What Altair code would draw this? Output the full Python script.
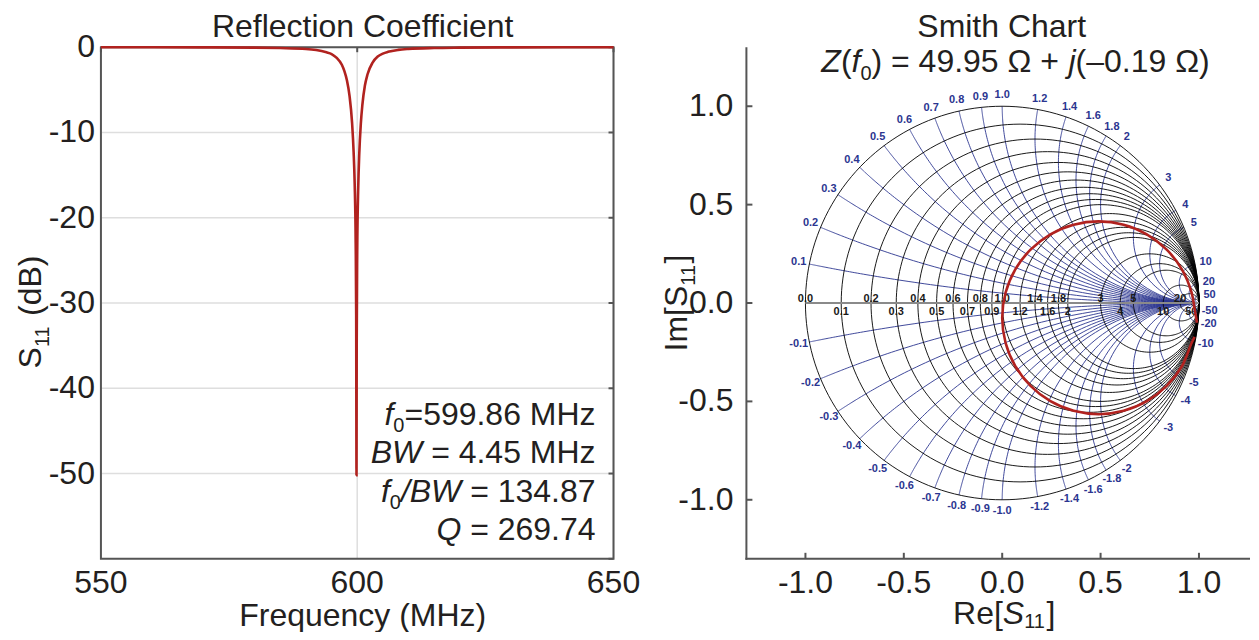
import numpy as np
import pandas as pd
import altair as alt

FONT = "Liberation Sans"
TXT = "#231f20"
RED = "#b1221f"
BLUE = "#2b3590"
FRAME = "#555555"
GRIDC = "#dedede"
FS = 32

# ---------------- Reflection coefficient (left panel) ----------------
freq_mhz = [550, 560, 570, 580, 585, 590, 592, 594, 595, 596,
            597, 597.5, 598, 598.5, 599, 599.3, 599.5, 599.7, 599.8, 599.86,
            599.9, 600, 600.2, 600.4, 600.7, 601, 601.5, 602, 603, 604,
            605, 606, 608, 610, 615, 620, 630, 640, 650]
s11_db = [-0.01, -0.01, -0.02, -0.05, -0.1, -0.2, -0.33, -0.6, -0.8, -1.25,
          -2.05, -2.8, -3.9, -5.7, -8.9, -12.3, -15.9, -22.9, -31.4, -50.2,
          -34.9, -24.0, -16.4, -12.5, -9.0, -6.8, -4.5, -3.2, -1.8, -1.1,
          -0.75, -0.54, -0.31, -0.2, -0.09, -0.05, -0.02, -0.01, -0.01]
f_ticks = [550, 600, 650]
f_tick_labels = ["550", "600", "650"]
db_ticks = [0, -10, -20, -30, -40, -50]
db_tick_labels = ["0", "-10", "-20", "-30", "-40", "-50"]

# ---------------- Smith chart (right panel) ----------------
r_values = [0, 0.1, 0.2, 0.3, 0.4, 0.5, 0.6, 0.7, 0.8, 0.9, 1.0,
            1.2, 1.4, 1.6, 1.8, 2, 3, 4, 5, 10, 20, 50]
r_labels = ["0.0", "0.1", "0.2", "0.3", "0.4", "0.5", "0.6", "0.7", "0.8", "0.9", "1.0",
            "1.2", "1.4", "1.6", "1.8", "2", "3", "4", "5", "10", "20", "50"]
x_values = [0.1, 0.2, 0.3, 0.4, 0.5, 0.6, 0.7, 0.8, 0.9, 1.0,
            1.2, 1.4, 1.6, 1.8, 2, 3, 4, 5, 10, 20, 50]
x_labels = ["0.1", "0.2", "0.3", "0.4", "0.5", "0.6", "0.7", "0.8", "0.9", "1.0",
            "1.2", "1.4", "1.6", "1.8", "2", "3", "4", "5", "10", "20", "50"]
trace_re = [0.990, 0.978, 0.963, 0.914, 0.836, 0.735, 0.617, 0.490, 0.363, 0.245,
            0.144, 0.066, 0.017, 0.000, 0.017, 0.066, 0.144, 0.245, 0.363, 0.490,
            0.617, 0.735, 0.836, 0.914, 0.963, 0.978]
trace_im = [-0.100, -0.032, 0.052, 0.170, 0.271, 0.349, 0.398, 0.415, 0.398, 0.349,
            0.271, 0.170, 0.052, -0.075, -0.202, -0.320, -0.421, -0.499, -0.548, -0.565,
            -0.548, -0.499, -0.421, -0.320, -0.202, -0.172]
gamma_ticks = [-1.0, -0.5, 0.0, 0.5, 1.0]
gamma_tick_labels = ["-1.0", "-0.5", "0.0", "0.5", "1.0"]

LW, LH = 513, 512
RW, RH = 504, 512            # right panel cut at the page edge (scale kept at 512 px / 2.6)
R_XMAX = -1.3 + RW * 2.6 / 512
ONE = alt.Data(values=[{"a": 1}])

# Arial / Liberation Sans advance widths (1/1000 em) for layout of mixed-style text
WID = {**{d: 556 for d in "0123456789"}, ".": 278, " ": 278, "=": 584, "+": 584,
       "(": 333, ")": 333, "[": 278, "]": 278, "/": 278, "\u2013": 556, "-": 333,
       "\u03a9": 768, "B": 667, "C": 722, "F": 611, "H": 722, "I": 278, "M": 833, "Q": 778,
       "R": 722, "S": 667, "W": 944, "Z": 611, "a": 556, "c": 500, "d": 556, "e": 556,
       "f": 278, "h": 556, "i": 222, "j": 222, "l": 222, "m": 833, "n": 556, "o": 556,
       "q": 556, "r": 333, "t": 278, "u": 556, "y": 500, "z": 500}


def tw(s, size):
    return sum(WID.get(ch, 556) for ch in s) * size / 1000.0


def rich(segs, x0, y0, size=FS, sub_size=20, sub_drop=8, align="left", angle=0, color=TXT):
    widths = [tw(t, sub_size if sub else size) for t, it, sub in segs]
    total = sum(widths)
    pos = -total if align == "right" else (-total / 2 if align == "center" else 0)
    out = []
    for (t, it, sub), w in zip(segs, widths):
        sz = sub_size if sub else size
        lead = len(t) - len(t.lstrip(" "))
        shown = t.strip(" ")
        p = pos + tw(" " * lead, sz)
        if angle == 0:
            x, y = x0 + p, y0 + (sub_drop if sub else 0)
        else:
            x, y = x0 + (sub_drop if sub else 0), y0 - p
        kw = dict(align="left", baseline="alphabetic", font=FONT, fontSize=sz,
                  fontStyle="italic" if it else "normal", color=color)
        if angle:
            kw["angle"] = angle
        out.append(alt.Chart(ONE).mark_text(**kw).encode(
            x=alt.value(x), y=alt.value(y), text=alt.value(shown)))
        pos += w
    return out


def ticks(vals, orient, scale, W, H, L=6, color=FRAME, width=2):
    df = pd.DataFrame({"v": vals})
    c = alt.Chart(df).mark_rule(color=color, strokeWidth=width)
    if orient in ("left", "right"):
        x0 = 0 if orient == "left" else W - L
        return c.encode(y=alt.Y("v:Q", scale=scale, axis=None),
                        x=alt.value(x0), x2=alt.value(x0 + L))
    y0 = H - L if orient == "bottom" else 0
    return c.encode(x=alt.X("v:Q", scale=scale, axis=None),
                    y=alt.value(y0), y2=alt.value(y0 + L))


def xlabels(vals, labels, scale, ypix):
    df = pd.DataFrame({"v": vals, "t": labels})
    return alt.Chart(df).mark_text(font=FONT, fontSize=FS, color=TXT, align="center",
                                   baseline="top").encode(
        x=alt.X("v:Q", scale=scale, axis=None), y=alt.value(ypix), text="t:N")


def ylabels(vals, labels, scale, xpix):
    df = pd.DataFrame({"v": vals, "t": labels})
    return alt.Chart(df).mark_text(font=FONT, fontSize=FS, color=TXT, align="right",
                                   baseline="middle").encode(
        y=alt.Y("v:Q", scale=scale, axis=None), x=alt.value(xpix), text="t:N")


def label(text, x, y):
    return alt.Chart(ONE).mark_text(font=FONT, fontSize=FS, color=TXT, align="center",
                                    baseline="alphabetic").encode(
        x=alt.value(x), y=alt.value(y), text=alt.value(text))


# ---------- left panel ----------
lx = alt.Scale(domain=[550, 650], nice=False, zero=False)
ly = alt.Scale(domain=[-60, 0], nice=False, zero=False)
left_df = pd.DataFrame({"f": freq_mhz, "s": s11_db})

curve = alt.Chart(left_df).mark_line(color=RED, strokeWidth=2.6, interpolate="monotone").encode(
    x=alt.X("f:Q", scale=lx, axis=None),
    y=alt.Y("s:Q", scale=ly, axis=None),
)
frame = alt.Chart(ONE).mark_rect(filled=False, stroke=FRAME, strokeWidth=2).encode(
    x=alt.value(0), x2=alt.value(LW), y=alt.value(0), y2=alt.value(LH))

left_layers = [ticks(db_ticks, "left", ly, LW, LH, LW, GRIDC, 1.5),
               ticks(f_ticks, "bottom", lx, LW, LH, LH, GRIDC, 1.5),
               frame,
               ticks(db_ticks + [-60], "right", ly, LW, LH, 5),
               ticks(f_ticks, "top", lx, LW, LH, 5),
               curve,
               xlabels(f_ticks, f_tick_labels, lx, LH + 9),
               ylabels(db_ticks, db_tick_labels, ly, -6),
               label("Reflection Coefficient", 262, -10),
               label("Frequency (MHz)", 262, LH + 67)]
left_layers += rich([("S", 0, 0), ("11", 0, 1), (" (dB)", 0, 0)], -60, 265,
                    align="center", angle=270)
left_layers += rich([("f", 1, 0), ("0", 0, 1), ("=599.86 MHz", 0, 0)], 495, 378, align="right",
                    sub_drop=7)
left_layers += rich([("BW", 1, 0), (" = 4.45 MHz", 0, 0)], 495, 416, align="right")
left_layers += rich([("f", 1, 0), ("0", 0, 1), ("/BW", 1, 0), (" = 134.87", 0, 0)], 495, 455,
                    align="right", sub_drop=7)
left_layers += rich([("Q", 1, 0), (" = 269.74", 0, 0)], 495, 493, align="right")

left = alt.layer(*left_layers).properties(width=LW, height=LH)

# ---------- right panel (Smith chart) ----------
sx = alt.Scale(domain=[-1.3, R_XMAX], nice=False, zero=False)
sy = alt.Scale(domain=[-1.3, 1.3], nice=False, zero=False)

th = np.linspace(0, 2 * np.pi, 181)
parts = []
for i, r in enumerate(r_values):
    c, rad = r / (1 + r), 1 / (1 + r)
    parts.append(pd.DataFrame({"cid": i, "k": np.arange(th.size),
                               "re": np.round(c + rad * np.cos(th), 4),
                               "im": np.round(rad * np.sin(th), 4)}))
r_df = pd.concat(parts, ignore_index=True)

s = np.concatenate([[0.0], np.geomspace(1e-3, 3e3, 220)])
parts = []
for sign in (1, -1):
    for i, xv in enumerate(x_values):
        z = s + 1j * sign * xv
        g = (z - 1) / (z + 1)
        parts.append(pd.DataFrame({"cid": f"{sign}_{i}", "k": np.arange(s.size),
                                   "re": np.round(g.real, 4), "im": np.round(g.imag, 4)}))
x_df = pd.concat(parts, ignore_index=True)

rlab_df = pd.DataFrame({"re": [(r - 1) / (r + 1) for r in r_values], "im": 0.0,
                        "t": r_labels, "up": [i % 2 == 0 for i in range(len(r_values))]})
ang = [2 * np.arctan(1 / x) for x in x_values]
xlab_df = pd.DataFrame({
    "re": [1.055 * np.cos(a) for a in ang] * 2,
    "im": [1.055 * np.sin(a) for a in ang] + [-1.055 * np.sin(a) for a in ang],
    "t": x_labels + ["-" + t for t in x_labels]})
trace_df = pd.DataFrame({"re": trace_re, "im": trace_im, "k": range(len(trace_re))})

XS = alt.X("re:Q", scale=sx, axis=None)
YS = alt.Y("im:Q", scale=sy, axis=None)
xarcs = alt.Chart(x_df).mark_line(color=BLUE, strokeWidth=0.9).encode(
    x=XS, y=YS, detail="cid:N", order="k:Q")
rcirc = alt.Chart(r_df).mark_line(color="#000000", strokeWidth=0.9).encode(
    x=XS, y=YS, detail="cid:N", order="k:Q")
realax = alt.Chart(ONE).mark_rule(color="#8a8a8a", strokeWidth=2).encode(
    x=alt.X(datum=-1.0, scale=sx, axis=None), x2=alt.X2(datum=1.0),
    y=alt.Y(datum=0.0, scale=sy, axis=None))
rlab_up = alt.Chart(rlab_df).transform_filter("datum.up").mark_text(
    font=FONT, fontSize=11, fontWeight="bold", color="#1a1a1a", baseline="alphabetic",
    dy=-1).encode(x=XS, y=YS, text="t:N")
rlab_dn = alt.Chart(rlab_df).transform_filter("!datum.up").mark_text(
    font=FONT, fontSize=11, fontWeight="bold", color="#1a1a1a", baseline="top",
    dy=3).encode(x=XS, y=YS, text="t:N")
xlab = alt.Chart(xlab_df).mark_text(
    font=FONT, fontSize=11, fontWeight="bold", color=BLUE, baseline="middle").encode(
    x=XS, y=YS, text="t:N")
trace = alt.Chart(trace_df).mark_line(color=RED, strokeWidth=2.6,
                                      interpolate="catmull-rom").encode(
    x=XS, y=YS, order="k:Q")
axis_left = alt.Chart(ONE).mark_rule(color=FRAME, strokeWidth=2).encode(
    x=alt.value(0), y=alt.value(0), y2=alt.value(RH + 1))
axis_bottom = alt.Chart(ONE).mark_rule(color=FRAME, strokeWidth=2).encode(
    x=alt.value(-1), x2=alt.value(RW), y=alt.value(RH))

right_layers = [xarcs, rcirc, realax, rlab_up, rlab_dn, xlab, trace,
                axis_left, axis_bottom,
                ticks(gamma_ticks, "left", sy, RW, RH, 6),
                ticks(gamma_ticks, "bottom", sx, RW, RH, 6),
                xlabels(gamma_ticks, gamma_tick_labels, sx, RH + 9),
                ylabels(gamma_ticks, gamma_tick_labels, sy, -13),
                label("Smith Chart", 255.5, -10)]
right_layers += rich([("Z", 1, 0), ("(", 0, 0), ("f", 1, 0), ("0", 0, 1),
                      (") = 49.95 \u03a9 +", 0, 0), (" j", 1, 0), ("(\u20130.19 \u03a9)", 0, 0)],
                     75, 25)
right_layers += rich([("Re[", 0, 0), ("S", 1, 0), ("11", 0, 1), ("]", 0, 0)], 258, RH + 65,
                     align="center", sub_drop=4)
right_layers += rich([("Im[", 0, 0), ("S", 0, 0), ("11", 0, 1), ("]", 0, 0)], -59, 256,
                     align="center", angle=270)

right = alt.layer(*right_layers).properties(width=RW, height=RH)

chart = alt.hconcat(left, right, spacing=133, bounds="flush").properties(
    padding={"left": 7, "top": 3, "right": 0, "bottom": 0}, background="white"
).configure(font=FONT).configure_view(stroke="transparent", strokeWidth=0)

chart.save("out.html", embed_options={"renderer": "svg", "actions": False})
